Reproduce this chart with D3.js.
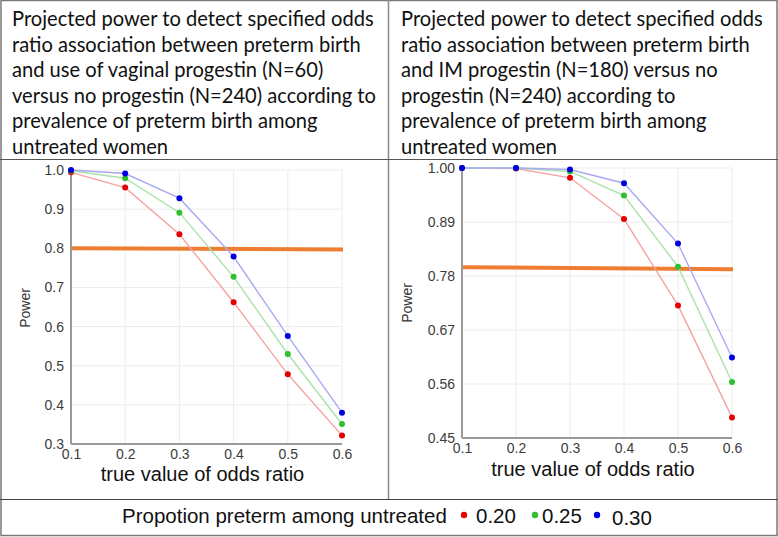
<!DOCTYPE html>
<html><head><meta charset="utf-8">
<script src="https://cdn.jsdelivr.net/npm/d3@7"></script>
<style>body{margin:0;background:#fff}svg{display:block}</style>
</head><body>
<svg id="c" width="778" height="537"></svg>
<script>
const oddsRatios = [0.1, 0.2, 0.3, 0.4, 0.5, 0.6];
const prevalences = ["0.20", "0.25", "0.30"];
// Left panel: vaginal progestin (N=60) vs none (N=240)
const leftP20 = [0.994, 0.955, 0.836, 0.662, 0.478, 0.322];
const leftP25 = [0.998, 0.979, 0.891, 0.727, 0.530, 0.351];
const leftP30 = [1.000, 0.991, 0.928, 0.779, 0.576, 0.380];
const leftYTicks = [0.3, 0.4, 0.5, 0.6, 0.7, 0.8, 0.9, 1.0];
const leftTarget = [0.800, 0.797];
// Right panel: IM progestin (N=180) vs none (N=240)
const rightP20 = [1.000, 0.999, 0.980, 0.896, 0.720, 0.492];
const rightP25 = [1.000, 1.000, 0.993, 0.944, 0.799, 0.564];
const rightP30 = [1.000, 1.000, 0.997, 0.969, 0.846, 0.614];
const rightYTicks = [0.45, 0.56, 0.67, 0.78, 0.89, 1.00];
const rightTarget = [0.798, 0.794];
const xTicks = [0.1, 0.2, 0.3, 0.4, 0.5, 0.6];
const leftTitle = ["Projected power to detect specified odds","ratio association between preterm birth","and use of vaginal progestin (N=60)","versus no progestin (N=240) according to","prevalence of preterm birth among","untreated women"];
const rightTitle = ["Projected power to detect specified odds","ratio association between preterm birth","and IM progestin (N=180) versus no","progestin (N=240) according to","prevalence of preterm birth among","untreated women"];
const legendLabel = "Propotion preterm among untreated";

const dotColors = ["#e30000", "#2fbf2f", "#0000dd"];
const lineColors = ["#f5a3a3", "#a9e3a9", "#a9a9f2"];

const svg = d3.select("#c");

// table borders
const bc = "#7a7a7a";
svg.append("rect").attr("x",1).attr("y",0.5).attr("width",776).attr("height",535).attr("fill","none").attr("stroke",bc).attr("stroke-width",1.5);
svg.append("line").attr("x1",388.5).attr("x2",388.5).attr("y1",0).attr("y2",499).attr("stroke","#8a8a8a").attr("stroke-width",1.5);
svg.append("line").attr("x1",0).attr("x2",778).attr("y1",159.5).attr("y2",159.5).attr("stroke","#555").attr("stroke-width",1.2);
svg.append("line").attr("x1",0).attr("x2",778).attr("y1",499.5).attr("y2",499.5).attr("stroke","#444").attr("stroke-width",1.2);

// header text
function header(lines, x0) {
  const g = svg.append("g").attr("font-family","Lato, 'Open Sans', sans-serif").attr("font-size",21).attr("fill","#111");
  const t = g.selectAll("text").data(lines).join("text")
    .attr("x",0).attr("y",(d,i)=>26+i*25.6).text(d=>d);
  const w = t.nodes()[0].getComputedTextLength();
  const k = 362 / w;
  g.attr("transform",`translate(${x0},0) scale(${k},1)`);
}
header(leftTitle, 12);
header(rightTitle, 401);

function panel(opts) {
  const {x0,x1,y0,y1,domain,ticks,fmt,series,target,titleY,powerX,powerY} = opts;
  const x = d3.scaleLinear().domain([0.1,0.6]).range([x0,x1]);
  const y = d3.scaleLinear().domain(domain).range([y1,y0]);
  const g = svg.append("g");
  // grid
  g.append("g").selectAll("line").data(xTicks).join("line")
    .attr("x1",d=>x(d)).attr("x2",d=>x(d)).attr("y1",y0).attr("y2",y1)
    .attr("stroke","#ececec").attr("stroke-width",1);
  g.append("g").selectAll("line").data(ticks).join("line")
    .attr("x1",x0).attr("x2",x1).attr("y1",d=>y(d)).attr("y2",d=>y(d))
    .attr("stroke","#ececec").attr("stroke-width",1);
  // axes
  const ax = g.append("g").attr("transform",`translate(0,${y1})`)
    .call(d3.axisBottom(x).tickValues(xTicks).tickFormat(d3.format(".1f")).tickSize(0).tickPadding(5));
  const ay = g.append("g").attr("transform",`translate(${x0},0)`)
    .call(d3.axisLeft(y).tickValues(ticks).tickFormat(d3.format(fmt)).tickSize(0).tickPadding(7));
  [ax,ay].forEach(a=>{
    a.select(".domain").attr("stroke","#9a9a9a").attr("stroke-width",2);
    a.selectAll("text").attr("font-family","Arial, 'Liberation Sans', sans-serif").attr("font-size",14).attr("fill","#3c3c3c");
  });
  ax.select(".domain").attr("d",`M${x0},0H${x1}`);
  ay.select(".domain").attr("d",`M0,${y0}V${y1}`);
  ax.selectAll("text").attr("dy","0.71em");
  // target line
  g.append("line").attr("x1",x0+1).attr("x2",x1+1).attr("y1",y(target[0])).attr("y2",y(target[1]))
    .attr("stroke","#ed7d31").attr("stroke-width",4);
  // series
  const line = d3.line().x((d,i)=>x(oddsRatios[i])).y(d=>y(d));
  series.forEach((s,k)=>{
    g.append("path").attr("d",line(s)).attr("fill","none").attr("stroke",lineColors[k]).attr("stroke-width",1.4);
  });
  series.forEach((s,k)=>{
    g.append("g").selectAll("circle").data(s).join("circle")
      .attr("cx",(d,i)=>x(oddsRatios[i])).attr("cy",d=>y(d)).attr("r",3)
      .attr("fill",dotColors[k]);
  });
  // titles
  g.append("text").attr("x",(x0+x1)/2-4).attr("y",titleY).attr("text-anchor","middle")
    .attr("font-family","Arial, 'Liberation Sans', sans-serif").attr("font-size",20).attr("fill","#111")
    .text("true value of odds ratio");
  g.append("text").attr("transform",`translate(${powerX},${powerY}) rotate(-90)`).attr("text-anchor","middle")
    .attr("font-family","Arial, 'Liberation Sans', sans-serif").attr("font-size",14).attr("fill","#333")
    .attr("dy","0.35em").text("Power");
}

panel({x0:71,x1:342,y0:170,y1:444,domain:[0.3,1.0],ticks:leftYTicks,fmt:".1f",
  series:[leftP20,leftP25,leftP30],target:leftTarget,titleY:481,powerX:25,powerY:308});
panel({x0:462,x1:732,y0:168,y1:438,domain:[0.45,1.0],ticks:rightYTicks,fmt:".2f",
  series:[rightP20,rightP25,rightP30],target:rightTarget,titleY:476,powerX:407,powerY:303});

// legend
const lg = svg.append("g").attr("font-family","Arial, 'Liberation Sans', sans-serif").attr("font-size",20.5).attr("fill","#111");
lg.append("text").attr("x",122).attr("y",523).text(legendLabel);
const legX = [[464,476],[535,542],[597,612]];
prevalences.forEach((p,i)=>{
  lg.append("circle").attr("cx",legX[i][0]).attr("cy",515).attr("r",3.2).attr("fill",dotColors[i]);
  lg.append("text").attr("x",legX[i][1]).attr("y",i===2?525:523).text(p);
});
</script>
</body></html>
